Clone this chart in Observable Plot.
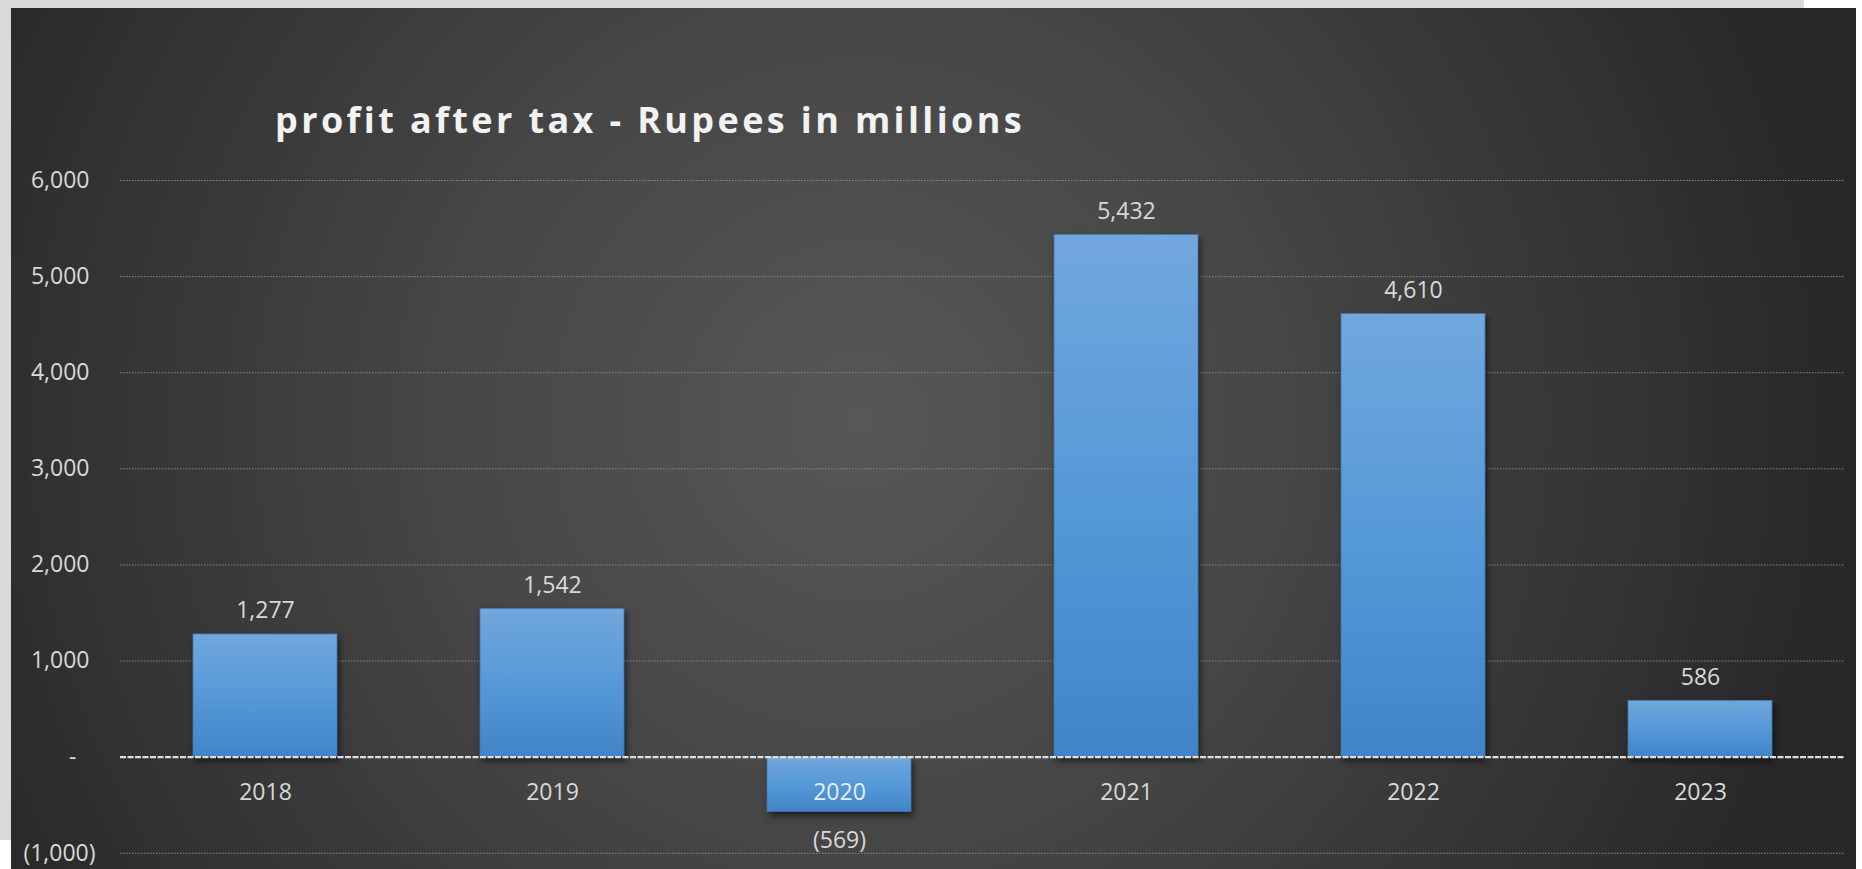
<!DOCTYPE html>
<html>
<head>
<meta charset="utf-8">
<script src="https://cdn.jsdelivr.net/npm/d3@7"></script>
<script src="https://cdn.jsdelivr.net/npm/@observablehq/plot@0.6"></script>
<style>
  html, body { margin: 0; padding: 0; background: #ffffff; }
  body { width: 1862px; height: 869px; position: relative; overflow: hidden; }
  #bandTop { position: absolute; left: 0; top: 0; width: 1804px; height: 8px; background: #d9d9d9; }
  #bandLeft { position: absolute; left: 0; top: 0; width: 11px; height: 840px; background: #d9d9d9; }
  #panel { position: absolute; left: 11px; top: 8px; width: 1845px; height: 861px;
    background: radial-gradient(circle 980px at 46% 48%, #575757 0%, #454545 45%, #282828 100%); overflow: hidden; }
  #title { position: absolute; left: 264px; top: 94px; font-family: "Open Sans", sans-serif; font-weight: 700;
    font-size: 36px; line-height: 36px; color: #f2f2f2; white-space: nowrap; }
  #chart { position: absolute; left: 0; top: 0; }
</style>
</head>
<body>
<div id="bandTop"></div>
<div id="bandLeft"></div>
<div id="panel">
  <div id="chart"></div>
  <div id="title">profit after tax - Rupees in millions</div>
</div>
<script>
const years = ["2018", "2019", "2020", "2021", "2022", "2023"];
const profit = [1277, 1542, -569, 5432, 4610, 586];
const yTicks = [-1000, 0, 1000, 2000, 3000, 4000, 5000, 6000];

const data = years.map((year, i) => ({year, value: profit[i]}));
const fmt = d3.format(",");
const acct = v => v < 0 ? `(${fmt(-v)})` : v === 0 ? "-" : fmt(v);

const defs = () => {
  const d = d3.create("svg:defs");
  const g = d.append("linearGradient").attr("id", "barGrad").attr("x1", 0).attr("y1", 0).attr("x2", 0).attr("y2", 1);
  g.append("stop").attr("offset", "0%").attr("stop-color", "#71a7dd");
  g.append("stop").attr("offset", "50%").attr("stop-color", "#5699d8");
  g.append("stop").attr("offset", "100%").attr("stop-color", "#4185c8");
  return d.node();
};

const chart = Plot.plot({
  width: 1845,
  height: 861,
  marginTop: 172,
  marginBottom: 16.2,
  marginLeft: 109,
  marginRight: 11,
  style: {background: "transparent", color: "#d9d9d9", fontFamily: "'Open Sans', sans-serif", fontSize: "23px"},
  x: {domain: years, paddingInner: 0.5, paddingOuter: 0.25, axis: null},
  y: {domain: [-1000, 6000], axis: null},
  marks: [
    defs,
    Plot.ruleY(yTicks.filter(d => d !== 0), {stroke: "#8a8a8a", strokeWidth: 1, strokeDasharray: "1.5,1.5"}),
    Plot.barY(data, {x: "year", y: "value", fill: "url(#barGrad)", stroke: "#4677ad", strokeWidth: 0.8}),
    Plot.ruleY([0], {stroke: "#dedede", strokeWidth: 2.2, strokeDasharray: "6,1.5"}),
    Plot.text(data.filter(d => d.value >= 0), {x: "year", y: "value", text: d => acct(d.value), lineAnchor: "bottom", dy: -16, fill: "#d9d9d9"}),
    Plot.text(data.filter(d => d.value < 0), {x: "year", y: "value", text: d => acct(d.value), lineAnchor: "top", dy: 20, fill: "#d9d9d9"}),
    Plot.text(data, {x: "year", y: () => 0, text: "year", lineAnchor: "middle", dy: 35, fill: d => d.value < 0 ? "#e6eef8" : "#d9d9d9"}),
    Plot.axisY(yTicks.filter(d => d > 0), {tickSize: 0, tickPadding: 31, tickFormat: acct, label: null, fill: "#d9d9d9"}),
    Plot.axisY([-1000], {tickSize: 0, tickPadding: 25, tickFormat: acct, label: null, fill: "#d9d9d9"}),
    Plot.axisY([0], {tickSize: 0, tickPadding: 44, tickFormat: acct, label: null, fill: "#d9d9d9"})
  ]
});
document.getElementById("chart").appendChild(chart);
chart.querySelectorAll('g[aria-label="bar"] rect').forEach(r => {
  r.style.filter = "drop-shadow(2px 4px 3px rgba(0,0,0,0.55))";
});

// fit title width to reference (~750px)
const t = document.getElementById("title");
const w = t.getBoundingClientRect().width;
const n = t.textContent.length;
t.style.letterSpacing = ((750 - w) / n) + "px";
</script>
</body>
</html>
